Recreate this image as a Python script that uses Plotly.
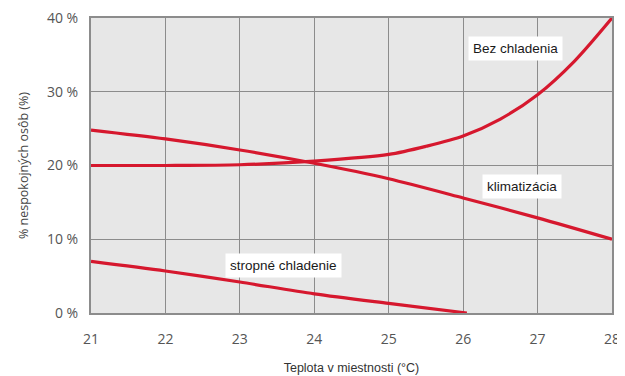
import plotly.graph_objects as go

# Data
bez_x = [21, 22, 23, 24, 25, 25.5, 26, 26.5, 27, 27.5, 28]
bez_y = [20.0, 20.0, 20.1, 20.6, 21.5, 22.6, 24.0, 26.3, 29.6, 34.2, 40.0]
klim_x = [21, 22, 23, 24, 25, 26, 27, 28]
klim_y = [24.8, 23.6, 22.1, 20.3, 18.2, 15.6, 12.9, 10.0]
strop_x = [21, 22, 23, 24, 25, 26.05]
strop_y = [7.0, 5.7, 4.2, 2.6, 1.3, 0.0]

x_ticks = [21, 22, 23, 24, 25, 26, 27, 28]
y_ticks = [0, 10, 20, 30, 40]
y_tick_labels = ["0 %", "10 %", "20 %", "30 %", "40 %"]

labels = ["Bez chladenia", "klimatizácia", "stropné chladenie"]
label_x = [26.70, 26.79, 23.58]
label_y = [35.9, 17.1, 6.4]

red = "#d6182e"
fig = go.Figure()
for xs, ys in [(bez_x, bez_y), (klim_x, klim_y), (strop_x, strop_y)]:
    fig.add_trace(go.Scatter(x=xs, y=ys, mode="lines",
                             line=dict(color=red, width=3.2, shape="spline", smoothing=0.8),
                             showlegend=False, hoverinfo="skip"))

for t, lx, ly in zip(labels, label_x, label_y):
    fig.add_annotation(x=lx, y=ly, text=t, showarrow=False,
                       font=dict(family="Liberation Sans, Arial", size=13.5, color="#1a1a1a"),
                       bgcolor="white", borderpad=4)

# page body has an 8px margin, so the figure is sized/offset to compensate
fig.update_layout(
    width=617, height=368,
    margin=dict(l=83, r=13, t=10, b=63),
    paper_bgcolor="white", plot_bgcolor="#e7e7e7",
    font=dict(family="Open Sans, Liberation Sans", size=14, color="#555555"),
)
fig.update_xaxes(range=[21, 28], tickvals=x_ticks, showgrid=True, gridcolor="#8c8c8c", gridwidth=1.2,
                 zeroline=False, showline=True, linecolor="#8c8c8c", linewidth=2, mirror=True,
                 ticks="outside", ticklen=12, tickcolor="rgba(0,0,0,0)", automargin=False,
                 ticklabeloverflow="allow",
                 tickfont=dict(size=14, color="#555555"),
                 title=dict(text="Teplota v miestnosti (°C)", standoff=16,
                            font=dict(family="Liberation Sans, Arial", size=12.5, color="#333333")))
fig.update_yaxes(range=[0, 40], tickvals=y_ticks, ticktext=y_tick_labels, showgrid=True,
                 gridcolor="#8c8c8c", gridwidth=1.2, zeroline=False, showline=True,
                 linecolor="#8c8c8c", linewidth=2, mirror=True,
                 ticks="outside", ticklen=8, tickcolor="rgba(0,0,0,0)", automargin=False,
                 ticklabeloverflow="allow",
                 tickfont=dict(size=14, color="#555555"),
                 title=dict(text="% nespokojných osôb (%)", standoff=16,
                            font=dict(family="Open Sans, Liberation Sans", size=12.5, color="#444444")))

fig.write_html("out.html")
